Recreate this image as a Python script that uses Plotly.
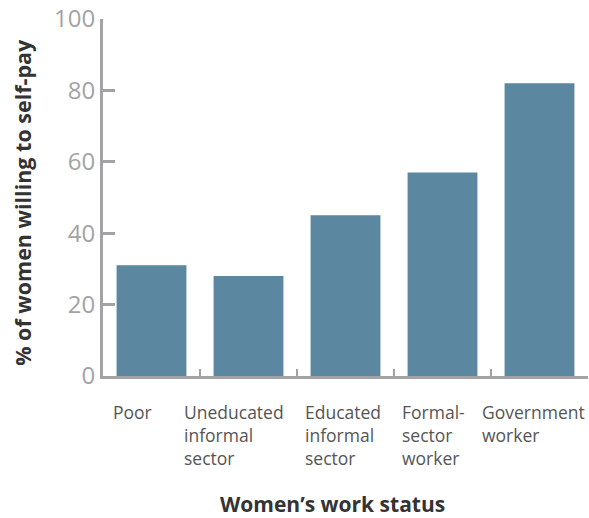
import plotly.graph_objects as go

categories = ["Poor", "Uneducated informal sector", "Educated informal sector",
              "Formal-sector worker", "Government worker"]
label_lines = ["Poor", "Uneducated<br>informal<br>sector", "Educated<br>informal<br>sector",
               "Formal-<br>sector<br>worker", "Government<br>worker"]
values = [31, 28, 45, 57, 82]
label_shift = [-41, -67, -43, -43, -60]

BAR = "#5b87a0"
AXIS = "#a3a3a5"
FONT = "Open Sans"

fig = go.Figure(go.Bar(x=categories, y=values, marker_color=BAR, width=0.72,
                       marker_line_width=0, hoverinfo="skip"))

anns = []
for c, t, s in zip(categories, label_lines, label_shift):
    anns.append(dict(x=c, xref="x", y=0, yref="paper", text=t, showarrow=False,
                     xanchor="left", yanchor="top", align="left", xshift=s, yshift=-22,
                     font=dict(family=FONT, size=17.5, color="#555555")))
anns.append(dict(x=0, xref="paper", y=0.485, yref="paper", text="<b>% of women willing to self-pay</b>",
                 textangle=-90, showarrow=False, xanchor="center", yanchor="middle", xshift=-80,
                 font=dict(family=FONT, size=21.5, color="#333333")))
anns.append(dict(x=0.5, xref="paper", y=0, yref="paper", text="<b>Women’s work status</b>",
                 showarrow=False, xanchor="center", yanchor="middle", xshift=-13, yshift=-128,
                 font=dict(family=FONT, size=21, color="#333333")))

fig.update_layout(
    width=589, height=518,
    margin=dict(l=103, r=1, t=19, b=142),
    paper_bgcolor="white", plot_bgcolor="white",
    showlegend=False,
    annotations=anns,
    xaxis=dict(showticklabels=False, showline=True, linecolor=AXIS, linewidth=3,
               ticks="inside", ticklen=7, tickwidth=2, tickcolor=AXIS, tickson="boundaries",
               range=[-0.5, 4.5], showgrid=False, zeroline=False),
    yaxis=dict(range=[0, 100], tickvals=[0, 20, 40, 60, 80, 100], showline=True,
               linecolor=AXIS, linewidth=3, ticks="inside", ticklen=12, tickwidth=3,
               tickcolor=AXIS, showgrid=False, zeroline=False,
               tickfont=dict(family=FONT, size=24, color="#a3a3a5")),
)

fig.write_html("out.html", config={"displayModeBar": False},
               post_script="document.body.style.margin='0';document.body.style.overflow='hidden';")
